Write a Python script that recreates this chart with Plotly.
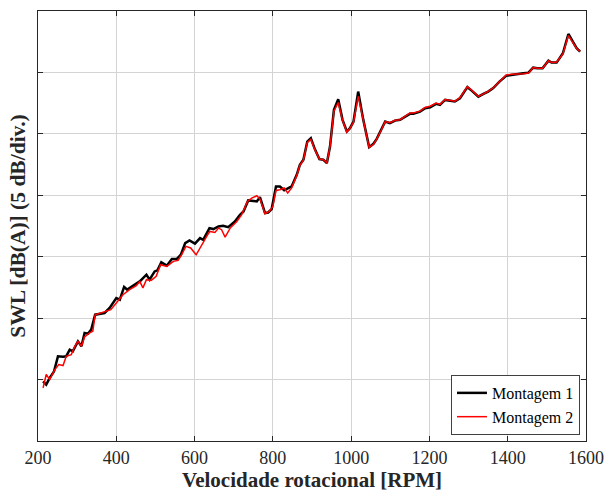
import plotly.graph_objects as go

# Montagem 1 (black)
rpm1 = [213, 221, 230, 241, 251, 264, 272, 281, 289, 302, 311, 319, 328, 336, 346, 358, 370, 383,
        400, 409, 420, 428, 447, 460, 477, 485, 498, 505, 515, 529, 542, 554, 565, 576, 587, 601,
        614, 622, 638, 648, 661, 673, 686, 703, 716, 725, 737, 750, 759, 767, 780, 788, 797, 808,
        818, 829, 838, 848, 861, 869, 878, 888, 897, 908, 919, 929, 938, 946, 956, 967, 978, 989,
        997, 1006, 1018, 1031, 1046, 1057, 1065, 1076, 1087, 1099, 1112, 1125, 1138, 1150, 1159,
        1176, 1189, 1202, 1217, 1227, 1240, 1253, 1265, 1278, 1288, 1297, 1308, 1325, 1338, 1350,
        1363, 1379, 1396, 1410, 1427, 1440, 1453, 1465, 1476, 1489, 1504, 1512, 1525, 1541, 1555,
        1564, 1576, 1585]
swl1 = [4.86, 4.59, 5.14, 5.67, 6.89, 6.85, 6.89, 7.44, 7.30, 8.11, 7.71, 8.80, 8.74, 9.07, 10.28,
        10.37, 10.42, 10.83, 11.64, 11.50, 12.54, 12.32, 12.72, 12.99, 13.54, 13.13, 13.80, 13.89,
        14.54, 14.27, 14.81, 14.81, 15.16, 16.11, 16.33, 16.06, 16.52, 16.38, 17.33, 17.25, 17.46,
        17.52, 17.41, 17.87, 18.41, 18.68, 19.58, 19.50, 19.50, 19.85, 18.55, 18.60, 18.88, 20.72,
        20.72, 20.41, 20.53, 20.72, 21.67, 22.48, 22.89, 24.37, 24.65, 23.70, 22.94, 22.89, 22.62,
        23.97, 26.95, 27.82, 26.14, 25.19, 25.46, 26.00, 28.44, 26.14, 23.92, 24.19, 24.57, 25.27,
        26.00, 25.87, 26.08, 26.14, 26.41, 26.63, 26.63, 26.81, 27.09, 27.17, 27.44, 27.36, 27.76,
        27.71, 27.63, 27.90, 28.36, 28.80, 28.52, 28.03, 28.25, 28.44, 28.72, 29.25, 29.72, 29.80,
        29.88, 29.93, 29.98, 30.39, 30.34, 30.34, 30.96, 30.80, 30.80, 31.56, 33.13, 32.59, 31.97,
        31.69]

# Montagem 2 (red)
rpm2 = [213, 221, 230, 243, 253, 264, 272, 285, 294, 302, 311, 319, 332, 340, 346, 358, 370, 386,
        400, 417, 434, 451, 460, 468, 477, 489, 502, 513, 529, 546, 558, 567, 578, 590, 604, 618,
        631, 639, 652, 661, 669, 678, 691, 708, 720, 735, 746, 759, 767, 780, 791, 800, 808, 818,
        829, 838, 848, 861, 869, 878, 888, 897, 908, 919, 929, 938, 946, 956, 967, 978, 989, 997,
        1006, 1018, 1031, 1046, 1057, 1065, 1076, 1087, 1099, 1112, 1125, 1138, 1150, 1159, 1176,
        1189, 1202, 1217, 1227, 1240, 1253, 1265, 1278, 1288, 1297, 1308, 1325, 1338, 1350, 1363,
        1379, 1396, 1410, 1427, 1440, 1453, 1465, 1476, 1489, 1504, 1512, 1525, 1541, 1555, 1564,
        1576, 1585]
swl2 = [4.33, 5.41, 5.00, 5.81, 6.22, 6.14, 6.89, 7.03, 7.71, 8.11, 7.71, 8.47, 8.80, 8.93, 10.28,
        10.42, 10.55, 10.69, 11.24, 11.91, 12.32, 12.64, 12.99, 12.46, 13.13, 13.07, 13.40, 14.35,
        14.21, 14.62, 14.70, 15.16, 15.84, 15.71, 15.16, 15.98, 16.65, 17.06, 16.98, 17.33, 17.20,
        16.60, 17.33, 17.87, 18.41, 19.50, 19.77, 19.96, 19.69, 18.50, 18.68, 19.09, 20.39, 20.45,
        20.59, 20.18, 20.60, 21.60, 22.45, 22.85, 24.30, 24.55, 23.65, 22.95, 22.90, 22.65, 23.95,
        26.85, 27.55, 26.10, 25.15, 25.45, 25.95, 28.05, 26.10, 23.90, 24.15, 24.55, 25.25, 26.00,
        25.90, 26.10, 26.15, 26.45, 26.70, 26.70, 26.85, 27.15, 27.25, 27.50, 27.40, 27.80, 27.75,
        27.65, 27.95, 28.40, 28.85, 28.55, 28.05, 28.25, 28.45, 28.75, 29.30, 29.80, 29.85, 29.85,
        29.90, 29.95, 30.40, 30.35, 30.35, 30.95, 30.80, 30.85, 31.50, 33.00, 32.55, 31.95, 31.70]

x_ticks = [200, 400, 600, 800, 1000, 1200, 1400, 1600]
y_ticks = [0, 5, 10, 15, 20, 25, 30, 35]

serif = "Liberation Serif"

fig = go.Figure()
fig.add_trace(go.Scatter(x=rpm1, y=swl1, mode="lines", name="Montagem 1",
                         line=dict(color="black", width=2.5)))
fig.add_trace(go.Scatter(x=rpm2, y=swl2, mode="lines", name="Montagem 2",
                         line=dict(color="#ff0000", width=1.5)))

axis_common = dict(showline=True, linecolor="#262626", linewidth=1, mirror="ticks",
                   ticks="inside", ticklen=5, tickcolor="#262626", tickwidth=1,
                   showgrid=True, gridcolor="#d4d4d4", gridwidth=1, zeroline=False,
                   automargin=False)

fig.update_xaxes(range=[200, 1600], tickvals=x_ticks, ticktext=[str(v) for v in x_ticks],
                 tickfont=dict(family=serif, size=18, color="#262626"),
                 title=dict(text="<b>Velocidade rotacional [RPM]</b>", standoff=3,
                            font=dict(family=serif, size=21, color="#262626")),
                 **axis_common)
fig.update_yaxes(range=[0, 35], tickvals=y_ticks, showticklabels=False,
                 title=dict(text="<b>SWL [dB(A)] (5 dB/div.)</b>", standoff=5,
                            font=dict(family=serif, size=21.5, color="#262626")),
                 **axis_common)

fig.update_layout(
    width=605, height=493,
    margin=dict(l=38, r=19, t=11, b=52),
    paper_bgcolor="white", plot_bgcolor="white",
    showlegend=True,
    legend=dict(x=0.989, y=0.014, xanchor="right", yanchor="bottom",
                bgcolor="white", bordercolor="#404040", borderwidth=1,
                font=dict(family=serif, size=16, color="black"),
                tracegroupgap=0, itemwidth=30),
)

fig.write_html("out.html")
